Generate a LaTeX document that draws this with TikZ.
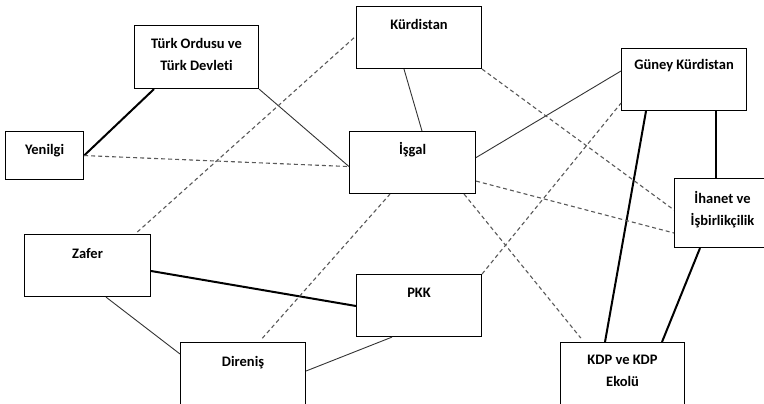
\documentclass[tikz,border=0pt]{standalone}
\usepackage{fontspec}
\setmainfont{Carlito}[Ligatures=NoCommon]
\begin{document}
\begin{tikzpicture}[x=1pt,y=-1pt,
        box/.style={draw,line width=1.1pt,anchor=north west,inner sep=0pt,align=center,
            minimum width=125pt,text height=23pt,text depth=39pt,
            font=\fontsize{14.5}{22}\selectfont\bfseries},
        thinline/.style={line width=0.9pt,black!80},
        thickline/.style={line width=2pt,black},
        dashline/.style={line width=1.1pt,black!65,dash pattern=on 4pt off 3pt}]
        \useasboundingbox (0,0) rectangle (764,404);
        \clip (0,0) rectangle (764,404);
        %% boxes
        \node[box] (kurd) at (356,6) {Kürdistan};
        \node[box,minimum width=124pt,text height=44.5pt,text depth=18.5pt] (turk) at (134,25) {Türk Ordusu ve\\Türk Devleti};
        \node[box,minimum width=78pt,text depth=25pt] (yen) at (5,131) {Yenilgi};
        \node[box,minimum width=126pt] (isgal) at (349,131) {İşgal};
        \node[box,text height=21pt,text depth=41pt] (guney) at (621,48) {Güney Kürdistan};
        \node[box,minimum width=96pt,text height=47pt,text depth=22pt] (ihanet) at (674,178) {İhanet ve\\İşbirlikçilik};
        \node[box,minimum width=126pt,text height=24pt,text depth=38pt] (zafer) at (24,234) {Zafer};
        \node[box] (pkk) at (356,274) {PKK};
        \node[box,text height=24pt,text depth=50pt] (diren) at (180,342) {Direniş};
        \node[box,minimum width=124pt,text height=44pt,text depth=30pt] (kdp) at (560,342) {KDP ve KDP\\Ekolü};
        %% solid links
        \draw[thickline] (yen.east) -- ([xshift=20pt]turk.south west);
        \draw[thinline] (turk.south east) -- ([yshift=-4pt]isgal.west);
        \draw[thinline] ([xshift=48pt]kurd.south west) -- ([xshift=73pt]isgal.north west);
        \draw[thinline] ([yshift=5pt]isgal.east) -- ([yshift=-23pt]guney.north west);
        \draw[thickline] ([xshift=25pt]guney.south west) -- ([xshift=45pt]kdp.north west);
        \draw[thickline] ([xshift=95pt]guney.south west) -- ([xshift=42pt]ihanet.north west);
        \draw[thickline] ([xshift=26pt]ihanet.south west) -- ([xshift=102pt]kdp.north west);
        \draw[thickline] ([yshift=-37pt]zafer.north east) -- ([yshift=-32pt]pkk.north west);
        \draw[thinline] ([xshift=82pt]zafer.south west) -- ([yshift=-12pt]diren.north west);
        \draw[thinline] ([yshift=-29pt]diren.north east) -- ([xshift=36pt]pkk.south west);
        %% dashed links
        \draw[dashline] (yen.east) -- ([yshift=-4pt]isgal.west);
        \draw[dashline,shorten <=3pt] ([xshift=-16pt]zafer.north east) -- ([yshift=-30pt]kurd.north west);
        \draw[dashline] (kurd.south east) -- ([yshift=-32pt]ihanet.north west);
        \draw[dashline] ([yshift=13pt]isgal.south east) -- ([yshift=-55pt]ihanet.north west);
        \draw[dashline,shorten >=5pt] ([xshift=-12pt]isgal.south east) -- ([xshift=24pt]kdp.north west);
        \draw[dashline,shorten <=5pt] ([xshift=79pt]diren.north west) -- ([xshift=41pt]isgal.south west);
        \draw[dashline] (pkk.north east) -- ([yshift=8pt]guney.south west);
    \end{tikzpicture}
\end{document}
